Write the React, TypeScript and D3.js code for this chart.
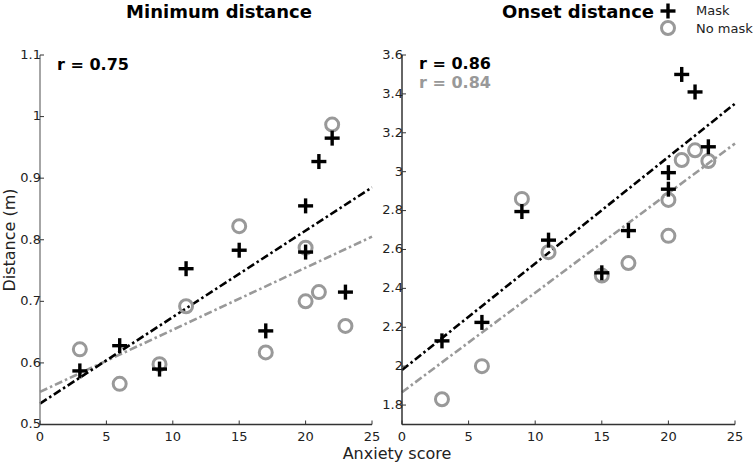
import * as d3 from "d3"

// Anxiety scores (shared x for both groups)
const anxiety = [3, 6, 9, 11, 15, 17, 20, 20, 21, 22, 23]

// Minimum distance (m)
const minMask = [0.587, 0.628, 0.59, 0.753, 0.783, 0.652, 0.855, 0.78, 0.927, 0.965, 0.715]
const minNoMask = [0.622, 0.566, 0.598, 0.692, 0.822, 0.617, 0.787, 0.7, 0.715, 0.987, 0.66]

// Onset distance (m)
const onsetMask = [2.13, 2.225, 2.795, 2.648, 2.48, 2.697, 2.995, 2.91, 3.5, 3.41, 3.128]
const onsetNoMask = [1.83, 2.0, 2.86, 2.586, 2.466, 2.53, 2.855, 2.67, 3.06, 3.11, 3.055]

// fitted lines: [value at x=0, value at x=25]
const minFitMask: [number, number] = [0.534, 0.885]
const minFitNoMask: [number, number] = [0.553, 0.805]
const onsetFitMask: [number, number] = [1.98, 3.35]
const onsetFitNoMask: [number, number] = [1.866, 3.145]

const xTicks = [0, 5, 10, 15, 20, 25]
const minTicks = [0.5, 0.6, 0.7, 0.8, 0.9, 1, 1.1]
const onsetTicks = [1.8, 2, 2.2, 2.4, 2.6, 2.8, 3, 3.2, 3.4, 3.6]

const W = 754
const H = 464
const FONT = "'DejaVu Sans', Verdana, sans-serif"
const BLACK = "#000"
const GREY = "#999"

type PanelProps = {
  x0: number
  x1: number
  yDomain: [number, number]
  yTicks: number[]
  mask: number[]
  noMask: number[]
  fitMask: [number, number]
  fitNoMask: [number, number]
  axisColor: string
}

function Plus({ cx, cy }: { cx: number; cy: number }) {
  const s = 7.5
  return (
    <g stroke={BLACK} strokeWidth={3.4}>
      <line x1={cx - s} x2={cx + s} y1={cy} y2={cy} />
      <line x1={cx} x2={cx} y1={cy - s} y2={cy + s} />
    </g>
  )
}

function Panel({ x0, x1, yDomain, yTicks, mask, noMask, fitMask, fitNoMask, axisColor }: PanelProps) {
  const x = d3.scaleLinear().domain([0, 25]).range([x0, x1])
  const y = d3.scaleLinear().domain(yDomain).range([424.5, 55])
  const fmt = (v: number) => d3.format("")(+v.toFixed(2))
  const line = d3
    .line<[number, number]>()
    .x((d) => x(d[0]))
    .y((d) => y(d[1]))

  return (
    <g fontFamily={FONT}>
      {/* fitted lines */}
      <path
        d={line([[0, fitNoMask[0]], [25, fitNoMask[1]]]) ?? ""}
        stroke={GREY}
        strokeWidth={2.6}
        strokeDasharray="8 3 2.5 3"
        fill="none"
      />
      <path
        d={line([[0, fitMask[0]], [25, fitMask[1]]]) ?? ""}
        stroke={BLACK}
        strokeWidth={2.6}
        strokeDasharray="8 3 2.5 3"
        fill="none"
      />

      {noMask.map((v, i) => (
        <circle key={`n${i}`} cx={x(anxiety[i])} cy={y(v)} r={6.5} fill="none" stroke={GREY} strokeWidth={3} />
      ))}
      {mask.map((v, i) => (
        <Plus key={`m${i}`} cx={x(anxiety[i])} cy={y(v)} />
      ))}

      {/* axes */}
      <line x1={x0} x2={x0} y1={y(yDomain[1])} y2={y(yDomain[0])} stroke={axisColor} strokeWidth={1.5} />
      <line x1={x0} x2={x1} y1={y(yDomain[0])} y2={y(yDomain[0])} stroke="#333" strokeWidth={1.5} />
      {yTicks.map((t) => (
        <g key={t}>
          <line x1={x0} x2={x0 + 4} y1={y(t)} y2={y(t)} stroke="#333" strokeWidth={1} />
          <text x={x0 + 1} y={y(t)} dy="0.3em" textAnchor="end" fontSize={13} fill="#222">
            {fmt(t)}
          </text>
        </g>
      ))}
      {xTicks.map((t) => (
        <g key={t}>
          <line x1={x(t)} x2={x(t)} y1={y(yDomain[0])} y2={y(yDomain[0]) - 4} stroke="#333" strokeWidth={1} />
          <text x={x(t)} y={y(yDomain[0]) + 16} textAnchor="middle" fontSize={13} fill="#222">
            {t}
          </text>
        </g>
      ))}
    </g>
  )
}

export default function App() {
  return (
    <svg
      width={W}
      height={H}
      viewBox={`0 0 ${W} ${H}`}
      style={{ position: "absolute", left: 0, top: 0, background: "#fff" }}
    >
      <Panel
        x0={40}
        x1={372}
        yDomain={[0.5, 1.1]}
        yTicks={minTicks}
        mask={minMask}
        noMask={minNoMask}
        fitMask={minFitMask}
        fitNoMask={minFitNoMask}
        axisColor="#888"
      />
      <Panel
        x0={402}
        x1={735}
        yDomain={[1.7, 3.6]}
        yTicks={onsetTicks}
        mask={onsetMask}
        noMask={onsetNoMask}
        fitMask={onsetFitMask}
        fitNoMask={onsetFitNoMask}
        axisColor="#333"
      />

      <g fontFamily={FONT}>
        <text x={219} y={18} textAnchor="middle" fontSize={18} fontWeight="bold">
          Minimum distance
        </text>
        <text x={578} y={18} textAnchor="middle" fontSize={18} fontWeight="bold">
          Onset distance
        </text>

        <text x={57} y={70} fontSize={16} fontWeight="bold" fill={BLACK}>
          r = 0.75
        </text>
        <text x={419} y={69} fontSize={16} fontWeight="bold" fill={BLACK}>
          r = 0.86
        </text>
        <text x={419} y={88} fontSize={16} fontWeight="bold" fill={GREY}>
          r = 0.84
        </text>

        {/* legend */}
        <Plus cx={668} cy={11} />
        <text x={696} y={15} fontSize={13} fill="#222">
          Mask
        </text>
        <circle cx={668} cy={28} r={6.5} fill="none" stroke={GREY} strokeWidth={3} />
        <text x={696} y={33} fontSize={13} fill="#222">
          No mask
        </text>

        <text x={397} y={459} textAnchor="middle" fontSize={16} fill="#222">
          Anxiety score
        </text>
        <text transform="translate(15,240) rotate(-90)" textAnchor="middle" fontSize={16} fill="#222">
          Distance (m)
        </text>
      </g>
    </svg>
  )
}
